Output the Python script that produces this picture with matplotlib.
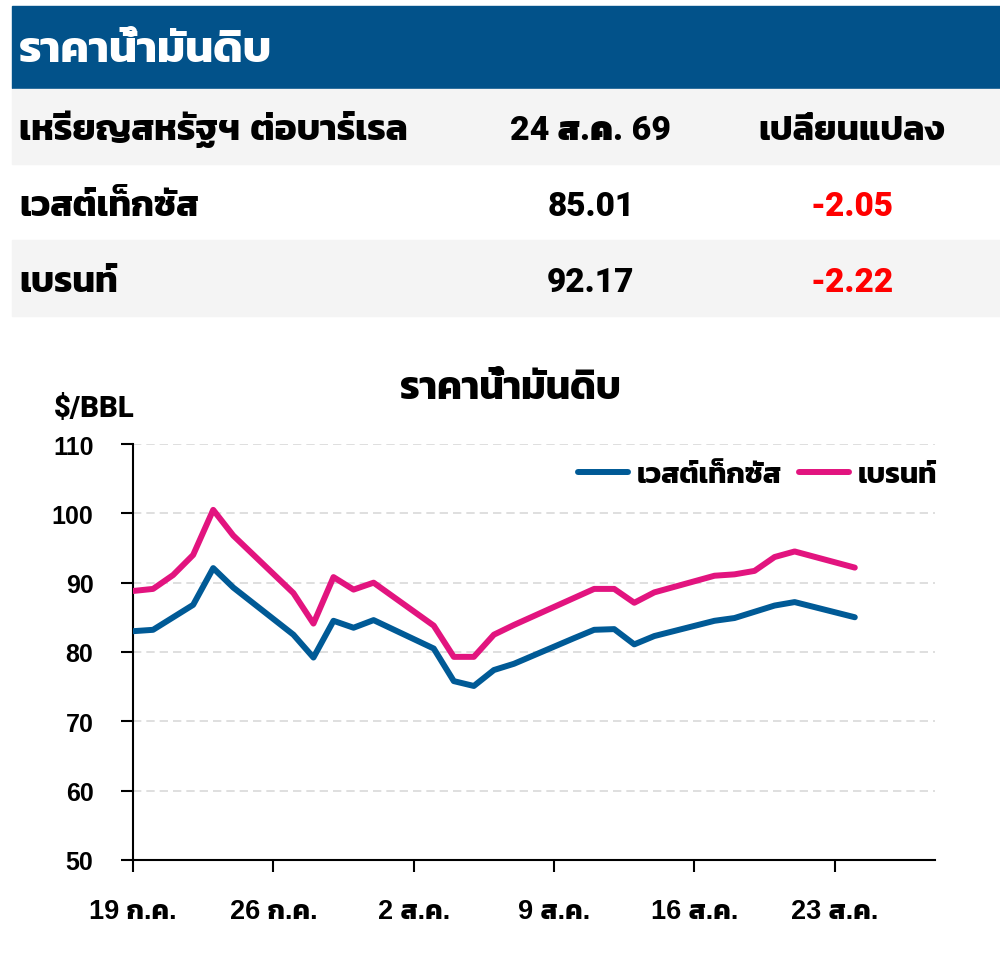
import matplotlib
matplotlib.use('Agg')
import matplotlib.pyplot as plt
from matplotlib import font_manager
from matplotlib.patches import Rectangle

# ข้อมูลราคาน้ำมันดิบ (วันนับจาก 19 ก.ค.)
days = [0, 1, 2, 3, 4, 5, 8, 9, 10, 11, 12, 15, 16, 17, 18, 19,
        22, 23, 24, 25, 26, 29, 30, 31, 32, 33, 36]
wti = [83.0, 83.2, 85.0, 86.8, 92.1, 89.3, 82.5, 79.2, 84.5, 83.5, 84.6,
       80.5, 75.8, 75.1, 77.4, 78.3, 82.0, 83.2, 83.3, 81.1, 82.3,
       84.5, 84.9, 85.8, 86.7, 87.2, 85.01]
brent = [88.8, 89.1, 91.1, 94.0, 100.5, 96.8, 88.5, 84.1, 90.8, 89.0, 90.0,
         83.8, 79.3, 79.3, 82.5, 83.9, 87.8, 89.1, 89.1, 87.1, 88.6,
         91.0, 91.2, 91.7, 93.7, 94.5, 92.17]

tick_days = [0, 7, 14, 21, 28, 35]
tick_labels = ['19 ก.ค.', '26 ก.ค.', '2 ส.ค.', '9 ส.ค.', '16 ส.ค.', '23 ส.ค.']
y_ticks = [50, 60, 70, 80, 90, 100, 110]

table_title = 'ราคาน้ำมันดิบ'
table_header = ['เหรียญสหรัฐฯ ต่อบาร์เรล', '24 ส.ค. 69', 'เปลี่ยนแปลง']
row_names = ['เวสต์เท็กซัส', 'เบรนท์']
row_prices = [85.01, 92.17]
row_changes = [-2.05, -2.22]

# ฟอนต์: ไทย + ตัวเลขแบบ Arial ตัวหนา
names = set(f.name for f in font_manager.fontManager.ttflist)
bold_names = set(f.name for f in font_manager.fontManager.ttflist
                 if isinstance(f.weight, int) and f.weight >= 700 or f.weight == 'bold')
thai = 'DejaVu Sans'
for n in ['Kanit', 'IBM Plex Sans Thai', 'Prompt', 'Noto Sans Thai']:
    if n in names:
        thai = n
        break
latin = 'DejaVu Sans'
for n in ['Liberation Sans', 'Arimo', 'Nimbus Sans', 'Roboto', 'Noto Sans']:
    if n in bold_names:
        latin = n
        break
heavy = 'Roboto' if 'Roboto' in names else latin
FAM = [latin, thai, 'DejaVu Sans']
FAM_Y = [latin, 'DejaVu Sans']
FAM_NUM = [heavy, thai, 'DejaVu Sans']

W, H = 1000, 979
fig = plt.figure(figsize=(W / 100, H / 100), dpi=100)


def fx(x):
    return x / W


def fy(y):
    return 1 - y / H


def box(x0, y0, x1, y1, color):
    fig.patches.append(Rectangle((fx(x0), fy(y1)), (x1 - x0) / W, (y1 - y0) / H,
                                 transform=fig.transFigure, color=color, zorder=0))


# ตาราง
box(12, 7, 1000, 89, '#02528a')
box(12, 90, 1000, 165, '#f4f4f4')
box(12, 241, 1000, 317, '#f4f4f4')

fig.text(fx(19), fy(62), table_title, color='white', fontsize=32, fontweight='bold',
         family=FAM, va='baseline', ha='left')
row_base = [140, 216, 292]
fig.text(fx(19), fy(row_base[0]), table_header[0], fontsize=26.5, fontweight='bold',
         family=FAM, va='baseline')
fig.text(fx(591), fy(row_base[0]), table_header[1], fontsize=24.5, fontweight=900,
         family=FAM_NUM, va='baseline', ha='center')
fig.text(fx(852), fy(row_base[0]), table_header[2], fontsize=25.5, fontweight='bold',
         family=FAM, va='baseline', ha='center')
for i in range(len(row_names)):
    y = row_base[i + 1]
    fig.text(fx(19), fy(y), row_names[i], fontsize=26, fontweight='bold',
             family=FAM, va='baseline')
    fig.text(fx(591), fy(y), f'{row_prices[i]:.2f}', fontsize=24, fontweight=900,
             family=FAM_NUM, va='baseline', ha='center')
    fig.text(fx(852), fy(y), f'{row_changes[i]:.2f}', fontsize=24, fontweight=900,
             family=FAM_NUM, va='baseline', ha='center', color='#ff0000')

# กราฟ
ax = fig.add_axes([fx(133), fy(861), (935 - 133) / W, (861 - 445) / H])
ax.plot(days, wti, color='#005a96', lw=4.3, solid_capstyle='round', label='เวสต์เท็กซัส', zorder=3)
ax.plot(days, brent, color='#e2147f', lw=4.3, solid_capstyle='round', label='เบรนท์', zorder=3)
ax.set_xlim(0, 40)
ax.set_ylim(50, 110)
ax.set_yticks(y_ticks)
ax.set_xticks(tick_days)
ax.set_xticklabels(tick_labels)
ax.grid(axis='y', color='#d9d9d9', ls=(0, (5, 3)), lw=1.2)
ax.set_axisbelow(True)
for s in ['top', 'right']:
    ax.spines[s].set_visible(False)
for s in ['left', 'bottom']:
    ax.spines[s].set_linewidth(1.5)
ax.tick_params(axis='both', direction='out', length=8.5, width=1.5)
ax.tick_params(axis='y', pad=20)
ax.tick_params(axis='x', pad=19)
for t in ax.get_yticklabels():
    t.set_family(FAM_Y)
    t.set_fontweight('bold')
    t.set_fontsize(18)
for t in ax.get_xticklabels():
    t.set_family(FAM)
    t.set_fontweight('bold')
    t.set_fontsize(19.5)

leg = ax.legend(loc='center right', bbox_to_anchor=(fx(937), fy(475)),
                bbox_transform=fig.transFigure, ncol=2, frameon=False,
                borderpad=0, borderaxespad=0,
                handlelength=1.7, columnspacing=0.6, handletextpad=0.3,
                prop={'family': FAM, 'weight': 'bold', 'size': 21})

fig.text(fx(510), fy(399), 'ราคาน้ำมันดิบ', fontsize=28, fontweight='bold',
         family=FAM, ha='center', va='baseline')
fig.text(fx(54), fy(417), '$/BBL', fontsize=21, fontweight=900,
         family=[heavy, 'DejaVu Sans'], ha='left', va='baseline')

fig.savefig('out.png', dpi=100)
